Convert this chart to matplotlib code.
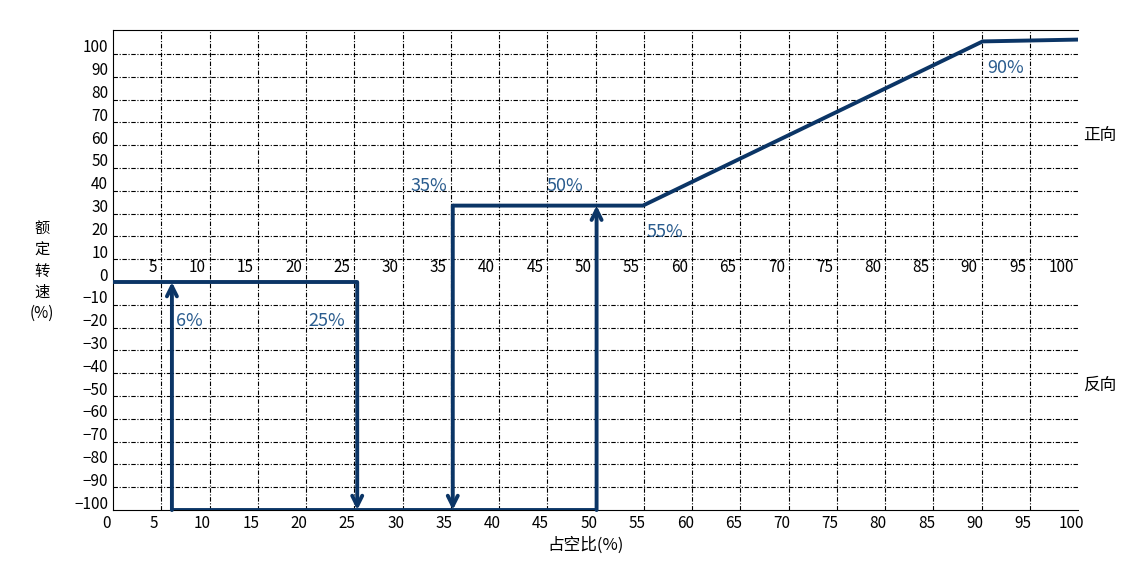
import matplotlib.pyplot as plt
import matplotlib.transforms as mtransforms

plt.rcParams['font.family'] = ['Noto Sans CJK SC', 'DejaVu Sans']

# duty cycle (%) / rated speed (%)
line_x = [0, 25.3]
line_y = [0, 0]
bottom_x = [6.1, 50.1]
bottom_y = [-100, -100]
fwd_x = [35.2, 54.9, 90.1, 100]
fwd_y = [33.5, 33.5, 105.5, 106.3]
arrows = [(6.1, -100, 0), (25.3, 0, -100), (35.2, 33.5, -100), (50.1, -100, 33.5)]
notes = [("6%", 6.5, -17), ("25%", 20.2, -17), ("35%", 30.8, 42), ("50%", 44.9, 42),
         ("55%", 55.3, 22), ("90%", 90.6, 94)]
x_ticks = list(range(0, 101, 5))
y_ticks = list(range(-100, 101, 10))

BLUE = "#0b3566"
NOTE = "#2b5d8f"

fig = plt.figure(figsize=(11.43, 5.77), dpi=100)
ax = fig.add_axes([0.0989, 0.116, 0.8444, 0.832])
ax.set_xlim(0, 100)
ax.set_ylim(-100, 110.5)

# grid
for xv in x_ticks[1:-1]:
    ax.axvline(xv, color="black", lw=0.8, ls=(0, (4, 1.5, 1, 1.5)), zorder=1)
for yv in y_ticks:
    if yv in (-100, 0):
        continue
    ax.axhline(yv, color="black", lw=0.8, ls=(0, (4, 1.5, 1, 1.5)), zorder=1)

ax.spines["right"].set_visible(False)
ax.tick_params(length=0, labelsize=11)
ax.set_xticks(x_ticks)
ax.set_xticklabels([str(v) for v in x_ticks])
for lab in ax.get_xticklabels():
    lab.set_transform(lab.get_transform() + mtransforms.ScaledTranslation(-0.07, 0, fig.dpi_scale_trans))
ax.set_yticks(y_ticks)
ax.set_yticklabels([str(v).replace("-", "−") for v in y_ticks])
for lab in ax.get_yticklabels():
    lab.set_transform(lab.get_transform() + mtransforms.ScaledTranslation(0, 0.08, fig.dpi_scale_trans))

# inner x labels along zero line
for xv in x_ticks[1:]:
    ax.text(xv - 0.4, 2.5, str(xv), ha="right", va="bottom", fontsize=11, zorder=2)

# curve
ax.plot(line_x, line_y, color=BLUE, lw=2.8, zorder=3, solid_capstyle="butt")
ax.plot(bottom_x, bottom_y, color=BLUE, lw=2.8, zorder=3, solid_capstyle="butt")
ax.plot(fwd_x, fwd_y, color=BLUE, lw=2.8, zorder=3, solid_capstyle="butt")
for xv, y0, y1 in arrows:
    ax.annotate("", xy=(xv, y1), xytext=(xv, y0),
                arrowprops=dict(arrowstyle="->", color=BLUE, lw=2.8,
                                mutation_scale=18, shrinkA=0, shrinkB=0), zorder=4)

for txt, xv, yv in notes:
    ax.text(xv, yv, txt, color=NOTE, fontsize=13, ha="left", va="center", zorder=5)

fig.text(0.962, 0.765, "正向", fontsize=12, ha="center", va="center")
fig.text(0.962, 0.332, "反向", fontsize=12, ha="center", va="center")
fig.text(0.037, 0.53, "额\n定\n转\n速\n(%)", fontsize=11, ha="center", va="center", linespacing=1.3)
fig.text(0.512, 0.055, "占空比(%)", fontsize=12, ha="center", va="center")

fig.savefig("out.png", dpi=100)
